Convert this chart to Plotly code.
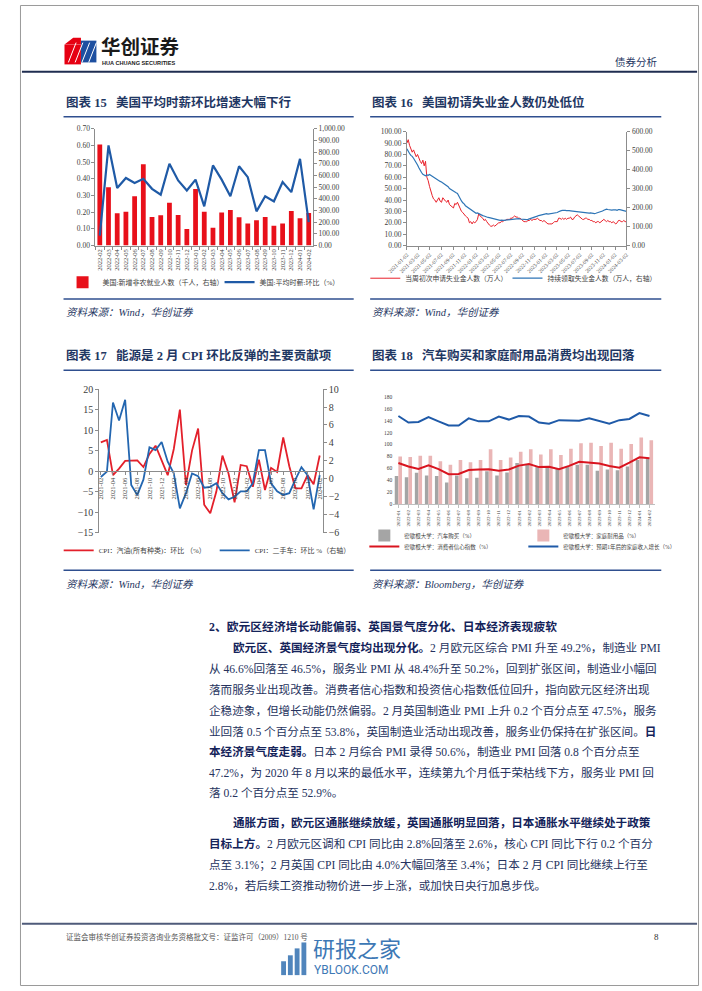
import plotly.graph_objects as go
import pandas as pd

W, H = 702, 991
def X(px): return px / W
def Y(py): return 1 - py / H

SERIF = "Liberation Serif, Noto Sans CJK SC, serif"
CJK = "Noto Sans CJK SC, sans-serif"
NAVY = "#1f3763"
AX = "#8c8c8c"
TXT = "#404040"

# ---------------- Chart 15 data ----------------
c15_months = ["2022-02", "2022-03", "2022-04", "2022-05", "2022-06", "2022-07", "2022-08",
              "2022-09", "2022-10", "2022-11", "2022-12", "2023-01", "2023-02", "2023-03",
              "2023-04", "2023-05", "2023-06", "2023-07", "2023-08", "2023-09", "2023-10",
              "2023-11", "2023-12", "2024-01", "2024-02"]
c15_payrolls = [865, 499, 276, 290, 423, 696, 245, 259, 366, 262, 141, 485, 290, 152,
                282, 304, 242, 189, 217, 245, 169, 189, 296, 234, 279]
c15_ahe_mom = [0.06, 0.60, 0.345, 0.405, 0.375, 0.40, 0.34, 0.305, 0.49, 0.39, 0.33, 0.395,
               0.235, 0.48, 0.395, 0.295, 0.475, 0.41, 0.205, 0.295, 0.265, 0.38, 0.32, 0.52, 0.14]

# ---------------- Chart 16 data (weekly) ----------------
c16_start, c16_end = "2021-01-02", "2024-03-02"
c16_initial = [
    90, 93, 88, 85, 82,  84, 80, 78, 80,  76, 74, 72, 75,  70, 74, 60, 57,
    52, 47, 44, 41, 40,  38, 40, 42, 39,  38, 42, 40, 39, 38,  40, 36, 35, 34,
    33, 37, 36, 38,  35, 32, 30, 29, 27,  26, 25, 24, 20,  21, 19, 21, 20,
    21, 23, 28, 26, 25,  24, 22, 23, 21,  19, 18, 17, 17,  18, 17, 18, 19, 20,
    20, 21, 21, 22,  22, 23, 23, 23,  24, 24, 25, 26, 25,  25, 24, 24, 23,
    22, 21, 21, 21,  22, 22, 23, 22, 23,  23, 23, 24, 23,  22, 22, 21, 22, 21,
    20, 19, 19, 19,  19, 20, 21, 21,  21, 24, 24, 23,  24, 23, 24, 23, 24,
    24, 25, 23, 23,  25, 26, 27, 26,  25, 24, 23, 23, 24,  24, 23, 23, 22,
    22, 21, 21, 20, 21,  21, 20, 21, 22,  23, 22, 21, 22,  21, 21, 20, 21, 20,
    19, 20, 22, 22,  21, 21, 22, 21,  21]
c16_continuing = [
    510, 495, 485, 475, 470,  460, 450, 440, 425,  410, 395, 385, 375,  370, 368, 372, 370,
    375, 370, 365, 360, 355,  350, 345, 342, 338,  335, 330, 325, 320, 318,  310, 300, 295, 290,
    285, 280, 278, 275,  260, 245, 235, 225, 220,  210, 205, 200, 195,  190, 185, 180, 175,
    170, 172, 168, 162, 160,  158, 156, 152, 150,  148, 147, 145, 142,  140, 138, 137, 135, 134,
    133, 134, 132, 133,  134, 135, 136, 137,  138, 139, 140, 138, 140,  141, 142, 140, 139,
    138, 137, 136, 137,  138, 140, 142, 143, 145,  148, 152, 155, 158,  160, 162, 165, 166, 168,
    168, 166, 167, 168,  170, 172, 170, 172,  174, 178, 182, 184,  185, 186, 185, 184, 185,
    184, 183, 182, 181,  180, 179, 178, 176,  175, 174, 173, 172, 172,  171, 170, 171, 172,
    170, 169, 168, 170, 172,  172, 175, 178, 182,  186, 190, 192, 190,  188, 189, 187, 188, 190,
    188, 186, 190, 189,  187, 188, 186, 184,  180]
c16_ticks = ["2021-01-02", "2021-03-02", "2021-05-02", "2021-07-02", "2021-09-02", "2021-11-02",
             "2022-01-02", "2022-03-02", "2022-05-02", "2022-07-02", "2022-09-02", "2022-11-02",
             "2023-01-02", "2023-03-02", "2023-05-02", "2023-07-02", "2023-09-02", "2023-11-02",
             "2024-01-02", "2024-03-02"]
c16_dates = pd.date_range(c16_start, periods=len(c16_initial), freq="7D")

# ---------------- Chart 17 data ----------------
c17_months = ["2021-02", "2021-03", "2021-04", "2021-05", "2021-06", "2021-07", "2021-08",
              "2021-09", "2021-10", "2021-11", "2021-12", "2022-01", "2022-02", "2022-03",
              "2022-04", "2022-05", "2022-06", "2022-07", "2022-08", "2022-09", "2022-10",
              "2022-11", "2022-12", "2023-01", "2023-02", "2023-03", "2023-04", "2023-05",
              "2023-06", "2023-07", "2023-08", "2023-09", "2023-10", "2023-11", "2023-12",
              "2024-01", "2024-02"]
c17_gasoline = [7.0, 7.6, -1.0, 0.6, 2.5, 2.5, 2.6, 1.0, 4.2, 6.2, 2.8, -1.0, 5.4, 15.0,
                -3.4, 5.0, 10.4, -8.2, -10.3, -5.0, 3.8, -0.6, -7.6, 1.5, 1.2, -3.8, 2.8,
                -4.6, 0.8, -0.2, 8.2, 1.2, -4.2, -4.2, -1.0, -3.2, 3.8]
c17_used_cars = [0.2, 0.8, 8.5, 6.5, 8.8, -0.7, -1.8, -0.1, 3.5, 3.2, 4.1, 1.9, 0.6, -3.3,
                 -1.6, 0.6, 0.3, -1.0, -0.9, -0.5, -1.6, -2.3, -2.0, -1.4, -1.4, -0.5, 3.2,
                 3.2, -0.5, -1.4, -1.8, -1.6, -0.1, 1.3, 0.4, -3.4, 0.4]

# ---------------- Chart 18 data ----------------
c18_months = ["2022-01", "2022-02", "2022-03", "2022-04", "2022-05", "2022-06", "2022-07",
              "2022-08", "2022-09", "2022-10", "2022-11", "2022-12", "2023-01", "2023-02",
              "2023-03", "2023-04", "2023-05", "2023-06", "2023-07", "2023-08", "2023-09",
              "2023-10", "2023-11", "2023-12", "2024-01", "2024-02"]
c18_car = [47, 45, 52.5, 48, 47, 36, 48, 43, 44, 55, 48, 53, 69, 66, 63, 62, 59, 62, 66, 66,
           56, 58, 56.5, 63, 74, 77]
c18_durables = [80, 79, 81, 81, 72, 66, 74, 70, 74, 92, 74, 78, 88, 92, 83, 92, 82.5, 93, 102,
                103, 97.5, 103, 93, 101, 112, 107]
c18_sentiment = [69, 63, 59, 65, 58.5, 50, 50.5, 57, 58, 58.5, 56, 58, 64.5, 67, 62, 62.5,
                 58.5, 64, 71, 69.5, 68, 64, 61, 69.5, 78.5, 77]
c18_income = [148, 137, 138, 146, 139, 132, 132, 144, 139, 139, 147, 142, 148, 147, 137, 135,
              141, 141, 140, 144, 139, 135, 141, 143, 153, 148]

fig = go.Figure()

# Chart 15
fig.add_trace(go.Bar(x=c15_months, y=c15_payrolls, xaxis="x", yaxis="y", width=0.55,
                     marker=dict(color="#e8101a", line=dict(width=0)),
                     name="美国:新增非农就业人数（千人，右轴）", legend="legend"))
fig.add_trace(go.Scatter(x=c15_months, y=c15_ahe_mom, xaxis="x", yaxis="y2", mode="lines",
                         line=dict(color="#1f5aa6", width=2.2),
                         name="美国:平均时薪:环比（%）", legend="legend"))
# Chart 16
fig.add_trace(go.Scatter(x=c16_dates, y=c16_initial, xaxis="x2", yaxis="y3", mode="lines",
                         line=dict(color="#e8202a", width=1),
                         name="当周初次申请失业金人数（万人）", legend="legend2"))
fig.add_trace(go.Scatter(x=c16_dates, y=c16_continuing, xaxis="x2", yaxis="y4", mode="lines",
                         line=dict(color="#2e75b6", width=1.2),
                         name="持续领取失业金人数（万人，右轴）", legend="legend6"))
# Chart 17
fig.add_trace(go.Scatter(x=c17_months, y=c17_gasoline, xaxis="x3", yaxis="y5", mode="lines",
                         line=dict(color="#e3202b", width=1.8),
                         name="CPI：汽油(所有种类)：环比 （%）", legend="legend3"))
fig.add_trace(go.Scatter(x=c17_months, y=c17_used_cars, xaxis="x3", yaxis="y6", mode="lines",
                         line=dict(color="#2366b0", width=1.8),
                         name="CPI：二手车：环比 %（右轴）", legend="legend3"))
# Chart 18
fig.add_trace(go.Bar(x=c18_months, y=c18_car, xaxis="x4", yaxis="y7",
                     marker=dict(color="#a5a5a5", line=dict(width=0)),
                     name="密歇根大学：汽车购买（%）", legend="legend4"))
fig.add_trace(go.Bar(x=c18_months, y=c18_durables, xaxis="x4", yaxis="y7",
                     marker=dict(color="#eab6b6", line=dict(width=0)),
                     name="密歇根大学：家庭耐用品（%）", legend="legend4"))
fig.add_trace(go.Scatter(x=c18_months, y=c18_sentiment, xaxis="x4", yaxis="y7", mode="lines",
                         line=dict(color="#d9141f", width=2),
                         name="密歇根大学：消费者信心指数（%）", legend="legend5"))
fig.add_trace(go.Scatter(x=c18_months, y=c18_income, xaxis="x4", yaxis="y7", mode="lines",
                         line=dict(color="#1f5aa8", width=2),
                         name="密歇根大学：预期1年后的家庭收入增长（%）", legend="legend5"))


def axstyle(size, **kw):
    d = dict(showgrid=False, zeroline=False, showline=True, linecolor=AX, linewidth=1,
             ticks="outside", ticklen=3, tickcolor=AX,
             tickfont=dict(size=size, family=SERIF, color=TXT), fixedrange=True)
    d.update(kw)
    return d


def legstyle(x, y, ew, size=7):
    d = dict(x=X(x), y=Y(y), xanchor="left", yanchor="middle", orientation="h",
             font=dict(size=size, family=SERIF, color=TXT), bgcolor="rgba(0,0,0,0)",
             itemwidth=30, tracegroupgap=0, itemclick=False, itemdoubleclick=False)
    if ew:
        d.update(entrywidth=ew, entrywidthmode="pixels")
    return d


layout = dict(
    width=W, height=H, autosize=False, margin=dict(l=0, r=0, t=0, b=0),
    paper_bgcolor="white", plot_bgcolor="rgba(0,0,0,0)", barmode="group",
    bargap=0.28, bargroupgap=0.0, hovermode=False, showlegend=True,
    # Chart 15
    xaxis=axstyle(6.5, domain=[X(78), X(303)], anchor="y", type="category",
                  range=[-0.5, 24.5], tickangle=-90, tickson="boundaries"),
    yaxis=axstyle(7.5, domain=[Y(243), Y(125)], anchor="x", side="right",
                  range=[0, 1000], dtick=100, tickformat=",.2f"),
    yaxis2=axstyle(7.5, overlaying="y", anchor="x", side="left",
                   range=[0, 0.7], dtick=0.1, tickformat=".2f"),
    # Chart 16
    xaxis2=axstyle(5.5, domain=[X(400), X(627)], anchor="y3", type="date",
                   range=[c16_start, c16_end], tickmode="array", tickvals=c16_ticks,
                   ticktext=c16_ticks, tickangle=-45),
    yaxis3=axstyle(7.5, domain=[Y(243), Y(128)], anchor="x2", range=[0, 100], dtick=10,
                   tickformat=".2f"),
    yaxis4=axstyle(7.5, overlaying="y3", anchor="x2", side="right", range=[0, 600],
                   dtick=100, tickformat=".2f"),
    # Chart 17
    xaxis3=axstyle(6.5, domain=[X(82), X(313)], anchor="free", position=Y(471),
                   type="category", range=[-0.25, 36.5], dtick=2, tickangle=-90),
    yaxis5=axstyle(10, domain=[Y(533), Y(388)], anchor="x3", range=[-15, 20], dtick=5),
    yaxis6=axstyle(10, overlaying="y5", anchor="x3", side="right", range=[-6, 10], dtick=2),
    # Chart 18
    xaxis4=axstyle(5, domain=[X(386), X(656)], anchor="y7", type="category",
                   range=[-0.5, 25.5], tickangle=-90, linecolor="#bfbfbf", tickcolor="#bfbfbf"),
    yaxis7=axstyle(5.5, domain=[Y(504), Y(396)], anchor="x4", range=[0, 180], dtick=20,
                   showline=False, ticks=""),
    legend=legstyle(44, 280, 112),
    legend2=legstyle(357, 276, 0, size=6.8),
    legend6=legstyle(504, 276, 0, size=6.8),
    legend3=legstyle(40, 551, 111),
    legend4=legstyle(356, 536, 114, size=5.5),
    legend5=legstyle(356, 547, 114, size=5.5),
)
fig.update_layout(**layout)

shapes = []
annotations = []


def hline(x0, x1, y, color, width):
    shapes.append(dict(type="line", xref="paper", yref="paper", x0=X(x0), x1=X(x1),
                       y0=Y(y), y1=Y(y), line=dict(color=color, width=width)))


def text(x, y, s, size, color, family=SERIF, xanchor="left", **kw):
    annotations.append(dict(xref="paper", yref="paper", x=X(x), y=Y(y), text=s,
                            showarrow=False, xanchor=xanchor, yanchor="middle",
                            font=dict(size=size, color=color, family=family), **kw))


# page border
shapes.append(dict(type="rect", xref="paper", yref="paper", x0=X(0.5), x1=X(701.5),
                   y0=Y(990.5), y1=Y(0.5), line=dict(color="#9a9a9a", width=1)))

# header logo
shapes.append(dict(type="rect", xref="paper", yref="paper", x0=X(46), x1=X(63), y0=Y(60), y1=Y(40),
                   fillcolor="#e60012", line=dict(width=0)))
shapes.append(dict(type="rect", xref="paper", yref="paper", x0=X(63), x1=X(79), y0=Y(58), y1=Y(36),
                   fillcolor="#1d4fa0", line=dict(width=0)))
shapes.append(dict(type="path", xref="paper", yref="paper",
                   path=f"M {X(46)},{Y(40)} L {X(55)},{Y(33)} L {X(63)},{Y(33)} L {X(63)},{Y(40)} Z",
                   fillcolor="#e60012", line=dict(width=0)))
for k in range(4):
    shapes.append(dict(type="line", xref="paper", yref="paper",
                       x0=X(50 + 7 * k), x1=X(58 + 7 * k), y0=Y(58), y1=Y(38),
                       line=dict(color="white", width=1)))
text(82, 41, "<b>华创证券</b>", 19.5, "#1a1a1a", family=CJK)
text(83, 58.5, "<b>HUA CHUANG SECURITIES</b>", 5.6, "#1a1a1a", family="Liberation Sans, Arial")
text(662, 57, "债券分析", 10.5, NAVY, family=CJK, xanchor="right")
hline(2, 700, 67.5, "#1f2d50", 2)

# chart titles, rules and sources
TITLE_COL = "#1f3763"
RULE = "#2f4f8f"
for (x0, x1, ty, ry, by, sy, title, src) in [
    (45, 345, 98, 113, 297, 311, "<b>图表 15   美国平均时薪环比增速大幅下行</b>", "资料来源：Wind，华创证券"),
    (362, 663, 98, 113, 297, 311, "<b>图表 16   美国初请失业金人数仍处低位</b>", "资料来源：Wind，华创证券"),
    (45, 345, 354, 369, 571, 585, "<b>图表 17   能源是 2 月 CPI 环比反弹的主要贡献项</b>", "资料来源：Wind，华创证券"),
    (362, 663, 354, 369, 571, 585, "<b>图表 18   汽车购买和家庭耐用品消费均出现回落</b>", "资料来源：Bloomberg，华创证券"),
]:
    text(x0, ty, title, 12.5, TITLE_COL)
    hline(x0, x1, ry, RULE, 1.5)
    hline(x0, x1, by, RULE, 1.5)
    text(x0, sy, f"<i>{src}</i>", 10.5, TITLE_COL)

# body text
BOLD = "#14235a"
NORM = "#26335e"
BS = 11.6
body = [
    (193, 628, "<b>2、欧元区经济增长动能偏弱、英国景气度分化、日本经济表现疲软</b>", 11.8),
    (218, 650, "<b>欧元区、英国经济景气度均出现分化。</b>2 月欧元区综合 PMI 升至 49.2%，制造业 PMI", BS),
    (193, 671, "从 46.6%回落至 46.5%，服务业 PMI 从 48.4%升至 50.2%，回到扩张区间，制造业小幅回", BS),
    (193, 692, "落而服务业出现改善。消费者信心指数和投资信心指数低位回升，指向欧元区经济出现", BS),
    (193, 713, "企稳迹象，但增长动能仍然偏弱。2 月英国制造业 PMI 上升 0.2 个百分点至 47.5%，服务", BS),
    (193, 734, "业回落 0.5 个百分点至 53.8%，英国制造业活动出现改善，服务业仍保持在扩张区间。<b>日</b>", BS),
    (193, 755, "<b>本经济景气度走弱。</b>日本 2 月综合 PMI 录得 50.6%，制造业 PMI 回落 0.8 个百分点至", BS),
    (193, 776, "47.2%，为 2020 年 8 月以来的最低水平，连续第九个月低于荣枯线下方，服务业 PMI 回", BS),
    (193, 797, "落 0.2 个百分点至 52.9%。", BS),
    (218, 826, "<b>通胀方面，欧元区通胀继续放缓，英国通胀明显回落，日本通胀水平继续处于政策</b>", BS),
    (193, 848, "<b>目标上方。</b>2 月欧元区调和 CPI 同比由 2.8%回落至 2.6%，核心 CPI 同比下行 0.2 个百分", BS),
    (193, 869, "点至 3.1%；2 月英国 CPI 同比由 4.0%大幅回落至 3.4%；日本 2 月 CPI 同比继续上行至", BS),
    (193, 890, "2.8%，若后续工资推动物价进一步上涨，或加快日央行加息步伐。", BS),
]
for (x, y, s, sz) in body:
    s = s.replace("<b>", f"<b><span style='color:{BOLD}'>").replace("</b>", "</span></b>")
    text(x, y, s, sz, NORM)

# footer
hline(2, 700, 928, "#4f5b7a", 2)
text(45, 941, "证监会审核华创证券投资咨询业务资格批文号：证监许可（2009）1210 号", 7.5, "#555555")
text(663, 941, "8", 9, "#333333", xanchor="right")

# watermark
WM = "#3d78b5"
for k, (bx, top) in enumerate([(270, 966), (277, 960), (284, 953), (291, 947)]):
    shapes.append(dict(type="rect", xref="paper", yref="paper", x0=X(bx), x1=X(bx + 5),
                       y0=Y(980), y1=Y(top), fillcolor=WM, line=dict(width=0), opacity=0.9))
text(301, 952, "研报之家", 22, WM, family=CJK)
text(302, 975, "YBLOOK.COM", 12, WM, family="Roboto, Liberation Sans")

fig.update_layout(shapes=shapes, annotations=annotations)
fig.write_html("out.html")
